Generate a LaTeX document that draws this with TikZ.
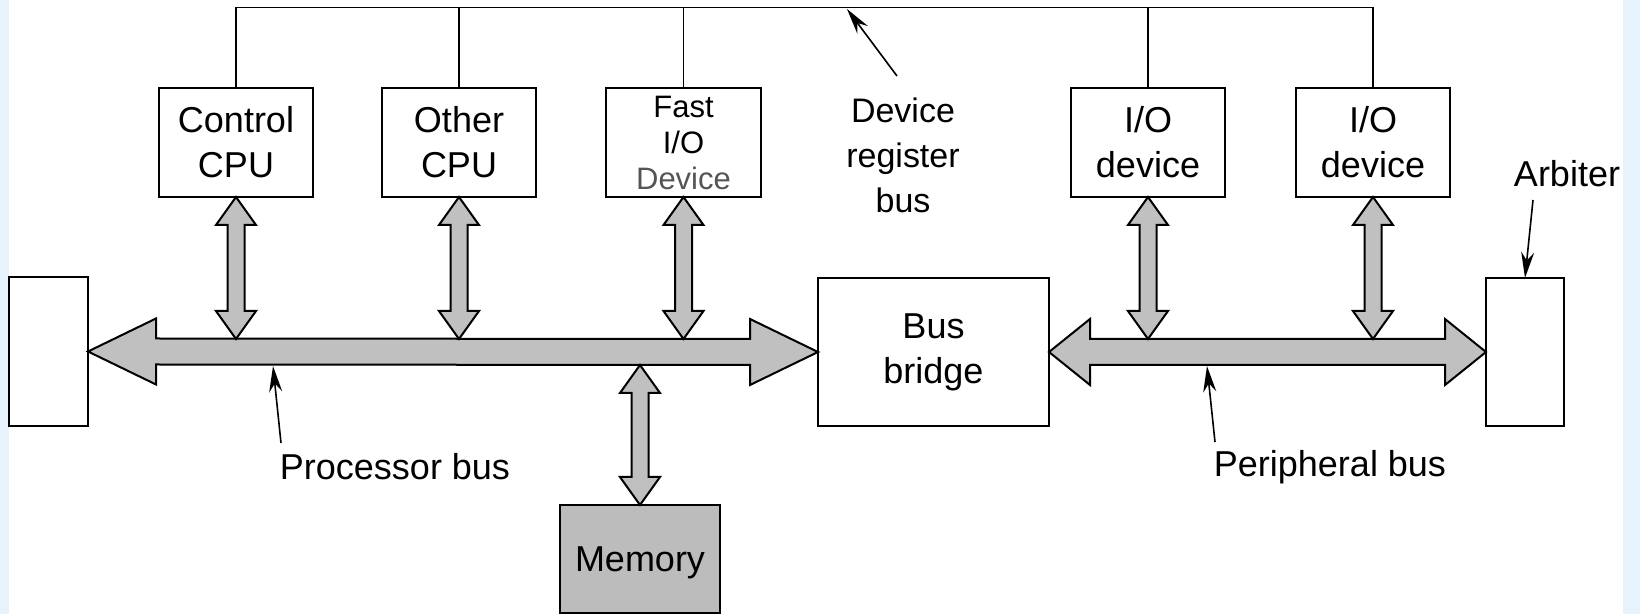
\documentclass[tikz,border=0pt]{standalone}
\usepackage{fontspec}
\setmainfont{Liberation Sans}
\usetikzlibrary{calc,arrows.meta}
\definecolor{busgray}{RGB}{192,192,192}
\definecolor{memgray}{RGB}{188,188,188}
\definecolor{edgeblue}{RGB}{230,242,252}
\definecolor{devgray}{RGB}{85,85,85}
% horizontal double arrow: left tip, right tip, head length
\newcommand\Hdbl[3]{\draw[busarrow] (#1) -- ++(#3,-33) -- ++(0,20) -- ($(#2)+(-#3,-13)$) -- ++(0,-20) -- (#2) -- ++(-#3,33) -- ++(0,-20) -- ($(#1)+(#3,13)$) -- ++(0,20) -- cycle;}
% vertical double arrow: top tip, bottom tip
\newcommand\Vdbl[2]{\draw[busarrow] (#1) -- ++(20,28) -- ++(-11.5,0) -- ($(#2)+(8.5,-28)$) -- ++(11.5,0) -- (#2) -- ++(-20,-28) -- ++(11.5,0) -- ($(#1)+(-8.5,28)$) -- ++(-11.5,0) -- cycle;}
\begin{document}
\begin{tikzpicture}[x=0.5pt,y=-0.5pt,
  box/.style={draw, line width=1pt, inner sep=0pt, outer sep=0pt, align=center, font=\fontsize{18}{22.5}\selectfont},
  busarrow/.style={draw, line width=1pt, fill=busgray, line join=miter},
  wire/.style={line width=0.8pt},
  pointer/.style={line width=0.8pt, -{Stealth[length=13pt,width=6.5pt]}},
  lbl/.style={inner sep=0pt, align=center, font=\fontsize{18}{22.5}\selectfont}]
\useasboundingbox (0,0) rectangle (1640,614);
\fill[edgeblue] (0,0) rectangle (9,614);
\fill[edgeblue] (1623,0) rectangle (1640,614);

% boxes
\node[box, minimum width=39.5pt, minimum height=74.5pt] (lbox) at (48.5,351.5) {};
\node[box, minimum width=77pt, minimum height=54.5pt] (ctrl) at (236,142.5) {Control\\CPU};
\node[box, minimum width=77pt, minimum height=54.5pt] (other) at (459,142.5) {Other\\CPU};
\node[box, minimum width=77.5pt, minimum height=54.5pt, font=\fontsize{15.5}{18}\selectfont] (fast) at (683.5,142.5) {Fast\\I/O\\\textcolor{devgray}{Device}};
\node[box, minimum width=77pt, minimum height=54.5pt] (io1) at (1148,142.5) {I/O\\device};
\node[box, minimum width=77pt, minimum height=54.5pt] (io2) at (1373,142.5) {I/O\\device};
\node[box, minimum width=115.5pt, minimum height=74pt] (bridge) at (933.5,352) {Bus\\bridge};
\node[box, minimum width=39pt, minimum height=74pt] (arbiter) at (1525,352) {};
\node[box, fill=memgray, minimum width=80pt, minimum height=54pt, text height=12.9pt, text depth=0pt] (memory) at (640,559) {Memory};

% device register bus
\coordinate (dbus) at (0,7.5);
\draw[wire] (ctrl.north) |- (io2.north |- dbus) -- (io2.north);
\foreach \n in {other,fast,io1} \draw[wire] (\n.north) -- (\n.north |- dbus);

% bus lines
\coordinate (pbT) at (0,339);
\coordinate (pbB) at (0,365);
\Hdbl{lbox.east}{bridge.west}{68}
\Hdbl{bridge.east}{arbiter.west}{41}
\Vdbl{ctrl.south}{ctrl.south |- pbT}
\Vdbl{other.south}{other.south |- pbT}
\Vdbl{fast.south}{fast.south |- pbT}
\Vdbl{io1.south}{io1.south |- pbT}
\Vdbl{io2.south}{io2.south |- pbT}
\Vdbl{memory.north |- pbB}{memory.north}

% labels and pointers
\node[lbl, font=\fontsize{17}{22.5}\selectfont] (drb) at (903,155) {Device\\register\\bus};
\coordinate (drbp) at (897,76);
\coordinate (drbt) at (847,9);
\draw[pointer] (drbp) -- (drbt);

\node[lbl, anchor=base] (arb) at (1567,187) {Arbiter};
\coordinate (arbp) at (1533,200);
\draw[pointer] (arbp) -- (arbiter.north);

\node[lbl, anchor=base] (pbl) at (395,480) {Processor bus};
\coordinate (pblp) at (281,443);
\coordinate (pblt) at (273,366);
\draw[pointer] (pblp) -- (pblt);

\node[lbl, anchor=base] (perl) at (1330,477) {Peripheral bus};
\coordinate (perlp) at (1215,442);
\coordinate (perlt) at (1207,366);
\draw[pointer] (perlp) -- (perlt);
\end{tikzpicture}
\end{document}
